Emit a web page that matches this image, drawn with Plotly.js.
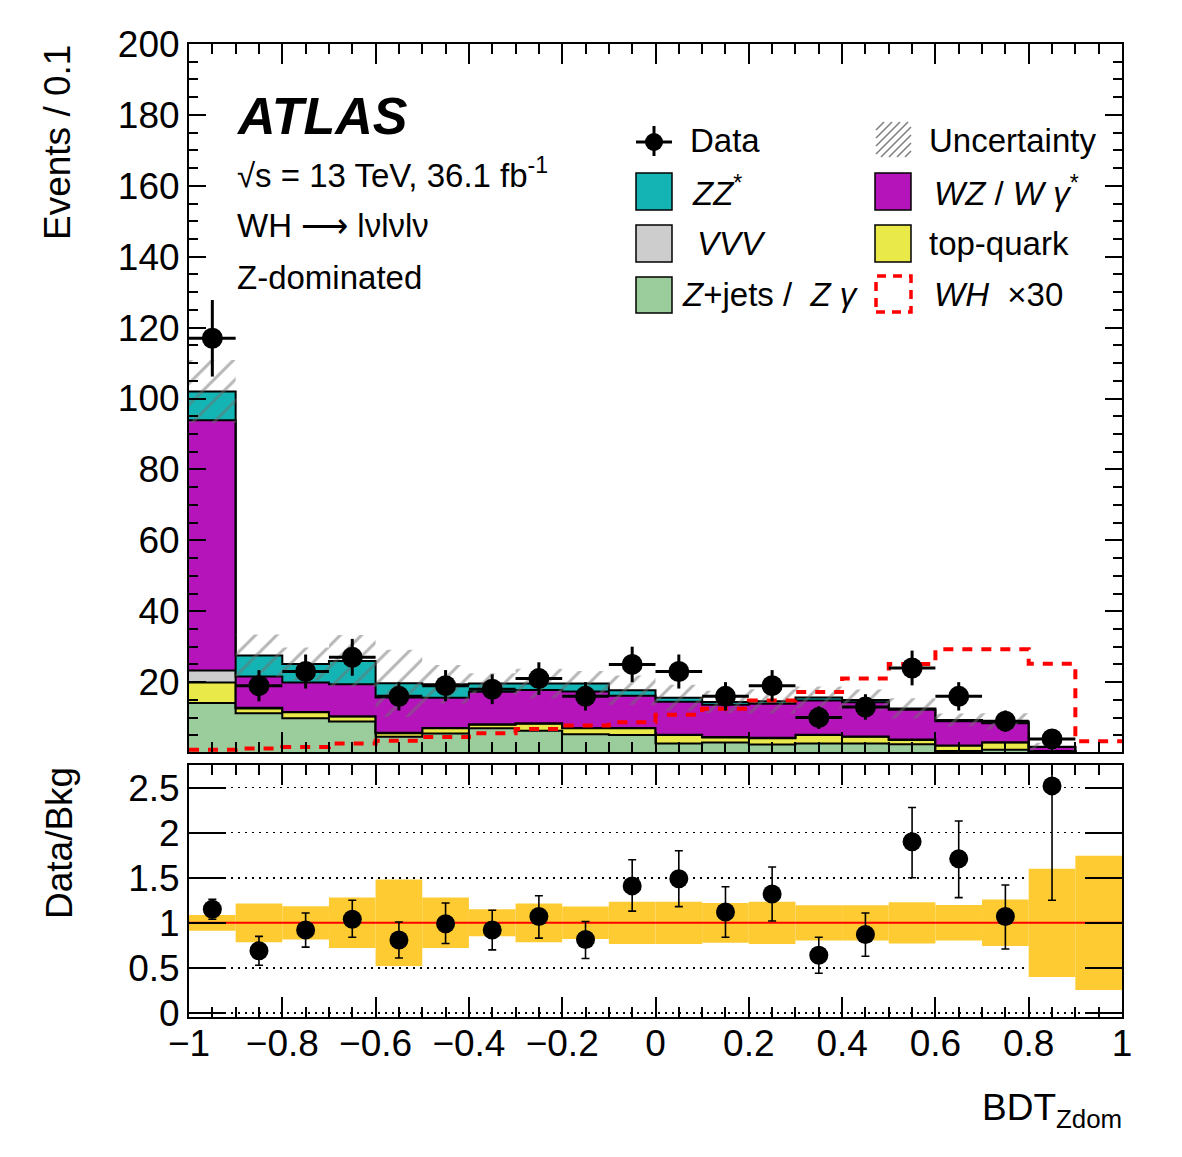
<!DOCTYPE html>
<html>
<head>
<meta charset="utf-8">
<script src="https://cdn.plot.ly/plotly-3.0.1.min.js"></script>
<style>
  html, body { margin: 0; padding: 0; background: #ffffff; }
  #chart { width: 1182px; height: 1157px; }
</style>
</head>
<body>
<div id="chart"></div>
<script>
// ---------------- data ----------------
const binEdges = [-1.0, -0.9, -0.8, -0.7, -0.6, -0.5, -0.4, -0.3, -0.2, -0.1, 0.0,
                  0.1, 0.2, 0.3, 0.4, 0.5, 0.6, 0.7, 0.8, 0.9, 1.0];

// background components per bin (events / 0.1)
const zjets = [14.1, 11.2, 9.8, 8.9, 4.6, 5.5, 7.0, 6.3, 5.3, 5.1, 2.7, 3.0, 2.4, 2.7, 2.7, 2.5, 0.6, 0.9, 0.2, 0];
const topq  = [5.8, 1.4, 1.7, 1.4, 1.0, 1.5, 1.0, 2.0, 1.7, 1.9, 2.4, 1.4, 1.8, 2.4, 1.9, 1.2, 1.5, 2.1, 0.4, 0];
const vvv   = [3.4, 0.2, 0.1, 0.1, 0.1, 0.1, 0.1, 0.1, 0.1, 0.1, 0.1, 0.1, 0.1, 0.1, 0.1, 0.1, 0.05, 0.05, 0.0, 0];
const wz    = [70.6, 8.8, 8.3, 9.0, 10.0, 8.5, 9.2, 9.4, 10.3, 9.1, 9.3, 9.1, 9.6, 9.6, 9.6, 8.4, 6.85, 5.35, 1.1, 0];
const zz    = [8.1, 5.9, 5.2, 6.6, 4.0, 3.8, 2.3, 1.8, 2.2, 1.5, 1.1, 0.8, 0.7, 0.9, 0.7, 0.4, 0.3, 0.5, 0.1, 0];

// signal WH x30
const whx30 = [0.9, 1.3, 1.7, 2.7, 3.5, 4.5, 5.6, 6.8, 7.75, 8.7, 10.8, 12.5, 14.8, 17.2, 21.0, 25.1, 29.3, 29.3, 25.2, 3.3];

// data
const dataCounts = [117, 19, 23, 27, 16, 19, 18, 21, 16, 25, 23, 16, 19, 10, 13, 24, 16, 9, 4, null];
const dataErr    = [10.8, 4.4, 4.8, 5.2, 4.0, 4.4, 4.2, 4.6, 4.0, 5.0, 4.8, 4.0, 4.4, 3.2, 3.6, 4.9, 4.0, 3.0, 2.0, null];

// ratio panel
const ratio       = [1.15, 0.69, 0.92, 1.04, 0.81, 0.99, 0.92, 1.07, 0.815, 1.41, 1.49, 1.12, 1.32, 0.64, 0.87, 1.90, 1.71, 1.07, 2.52, null];
const ratioErrUp  = [0.11, 0.16, 0.19, 0.21, 0.20, 0.23, 0.22, 0.23, 0.20, 0.29, 0.31, 0.28, 0.30, 0.20, 0.24, 0.38, 0.42, 0.35, 1.5, null];
const ratioErrDn  = [0.11, 0.16, 0.19, 0.20, 0.20, 0.22, 0.22, 0.24, 0.21, 0.28, 0.31, 0.28, 0.30, 0.20, 0.24, 0.40, 0.43, 0.36, 1.27, null];
const bkgRelUnc   = [0.087, 0.215, 0.185, 0.28, 0.48, 0.28, 0.15, 0.215, 0.18, 0.235, 0.235, 0.22, 0.235, 0.195, 0.195, 0.228, 0.197, 0.258, 0.60, 0.744];

const yTickVals = [0, 0.5, 1, 1.5, 2, 2.5];
const yTickText = ['0', '0.5', '1', '1.5', '2', '2.5'];

// ---------------- helpers ----------------
const nb = binEdges.length - 1;
const centers = [];
for (let i = 0; i < nb; i++) centers.push((binEdges[i] + binEdges[i + 1]) / 2);
const binW = binEdges[1] - binEdges[0];
const step = a => a.concat([a[a.length - 1]]);

const comps = [zjets, topq, vvv, wz, zz];
const compColors = ['#9bcc9b', '#e9e94a', '#cdcdcd', '#b414b9', '#14b4b4'];
const cum = [];
let run = new Array(nb).fill(0);
comps.forEach(c => { run = run.map((v, i) => v + c[i]); cum.push(run.slice()); });
const total = cum[cum.length - 1];
const uncLo = total.map((t, i) => t * (1 - bkgRelUnc[i]));
const uncHi = total.map((t, i) => t * (1 + bkgRelUnc[i]));

const FONT = 'Liberation Sans, Arial, Helvetica, sans-serif';

const traces = [];
cum.forEach((c, k) => {
  traces.push({
    type: 'scatter', mode: 'lines', x: binEdges, y: step(c),
    line: { shape: 'hv', color: '#000000', width: 2 },
    fill: k === 0 ? 'tozeroy' : 'tonexty', fillcolor: compColors[k],
    xaxis: 'x', yaxis: 'y', hoverinfo: 'skip'
  });
});
traces.push({
  type: 'scatter', mode: 'lines', x: binEdges, y: step(uncLo),
  line: { shape: 'hv', width: 0, color: 'rgba(0,0,0,0)' }, xaxis: 'x', yaxis: 'y', hoverinfo: 'skip'
});
traces.push({
  type: 'scatter', mode: 'lines', x: binEdges, y: step(uncHi),
  line: { shape: 'hv', width: 0, color: 'rgba(0,0,0,0)' },
  fill: 'tonexty', fillcolor: 'rgba(0,0,0,0)',
  fillpattern: { shape: '/', fgcolor: '#707070', bgcolor: 'rgba(0,0,0,0)', size: 15, solidity: 0.2, fillmode: 'overlay' },
  xaxis: 'x', yaxis: 'y', hoverinfo: 'skip'
});
traces.push({
  type: 'scatter', mode: 'lines', x: binEdges, y: step(whx30),
  line: { shape: 'hv', color: '#ff0000', width: 4, dash: '10px,9px' },
  xaxis: 'x', yaxis: 'y', hoverinfo: 'skip'
});
traces.push({
  type: 'scatter', mode: 'markers', x: centers, y: dataCounts,
  marker: { symbol: 'circle', size: 21, color: '#000000' },
  error_x: { type: 'constant', value: binW / 2, thickness: 3, width: 0, color: '#000000' },
  error_y: { type: 'data', array: dataErr, thickness: 3, width: 0, color: '#000000' },
  xaxis: 'x', yaxis: 'y', hoverinfo: 'skip'
});
// ratio panel
traces.push({
  type: 'bar', x: centers, y: bkgRelUnc.map(u => 2 * u), base: bkgRelUnc.map(u => 1 - u),
  width: binW, marker: { color: '#fecb32', line: { width: 0 } },
  xaxis: 'x2', yaxis: 'y2', hoverinfo: 'skip'
});
traces.push({
  type: 'scatter', mode: 'lines', x: [binEdges[0], binEdges[nb]], y: [1, 1],
  line: { color: '#ff0000', width: 2 }, xaxis: 'x2', yaxis: 'y2', hoverinfo: 'skip'
});
traces.push({
  type: 'scatter', mode: 'markers', x: centers, y: ratio,
  marker: { symbol: 'circle', size: 19, color: '#000000' },
  error_y: { type: 'data', array: ratioErrUp, arrayminus: ratioErrDn, symmetric: false, thickness: 1.6, width: 4, color: '#000000' },
  xaxis: 'x2', yaxis: 'y2', hoverinfo: 'skip'
});

// ---------------- layout ----------------
const L = 189, R = 1122, T = 44, B = 1017;
const px = x => (x - L) / (R - L);
const py = y => (B - y) / (B - T);

const ann = [];
function txt(x, y, text, size, opts) {
  ann.push(Object.assign({
    xref: 'paper', yref: 'paper', x: px(x), y: py(y), text: text, showarrow: false,
    xanchor: 'left', yanchor: 'middle', font: { family: FONT, size: size, color: '#000000' }
  }, opts || {}));
}
txt(234, 116, '<b><i>ATLAS</i></b>', 52);
txt(235, 173, '√s = 13 TeV, 36.1 fb<sup>-1</sup>', 33);
txt(235, 225, 'WH ⟶ lνlνlν', 33);
txt(235, 277, 'Z-dominated', 33);

txt(688, 140, 'Data', 33);
txt(690, 191, '<i>ZZ</i><sup>*</sup>', 33);
txt(695, 243, '<i>VVV</i>', 33);
txt(680, 294, '<i>Z</i>+jets /  <i>Z γ</i>', 33);
txt(927, 140, 'Uncertainty', 33);
txt(932, 191, '<i>WZ</i> / <i>W γ</i><sup>*</sup>', 33);
txt(927, 243, 'top-quark', 33);
txt(932, 294, '<i>WH</i>  ×30', 33);

txt(57, 143, 'Events / 0.1', 37, { xanchor: 'center', textangle: -90 });
txt(59, 843, 'Data/Bkg', 37, { xanchor: 'center', textangle: -90 });
txt(1124, 1110, 'BDT<sub>Zdom</sub>', 37, { xanchor: 'right' });

const shapes = [];
function rect(x0, y0, x1, y1, fill, line) {
  shapes.push({ type: 'rect', xref: 'paper', yref: 'paper', x0: px(x0), x1: px(x1), y0: py(y1), y1: py(y0),
    fillcolor: fill, line: line, layer: 'above' });
}
function seg(x0, y0, x1, y1, color, width) {
  shapes.push({ type: 'line', xref: 'paper', yref: 'paper', x0: px(x0), x1: px(x1), y0: py(y0), y1: py(y1),
    line: { color: color, width: width }, layer: 'above' });
}
// legend swatches
rect(636, 173, 672, 210, compColors[4], { color: '#000', width: 1.5 });
rect(636, 225, 672, 262, compColors[2], { color: '#000', width: 1.5 });
rect(636, 277, 672, 313, compColors[0], { color: '#000', width: 1.5 });
rect(875, 173, 911, 210, compColors[3], { color: '#000', width: 1.5 });
rect(875, 225, 911, 262, compColors[1], { color: '#000', width: 1.5 });
rect(876, 276, 911, 312, 'rgba(0,0,0,0)', { color: '#ff0000', width: 3.5, dash: '9px,7px' });
// data marker in legend
seg(636, 142, 672, 142, '#000', 3);
seg(654, 126, 654, 156, '#000', 3);
shapes.push({ type: 'circle', xref: 'paper', yref: 'paper', x0: px(645), x1: px(663), y0: py(151), y1: py(133),
  fillcolor: '#000', line: { color: '#000', width: 0 }, layer: 'above' });
// hatched uncertainty swatch
(function () {
  const x0 = 876, x1 = 911, yt = 122, yb = 157, w = x1 - x0, h = yb - yt;
  for (let c = -h; c < w; c += 8) {
    const tmin = Math.max(0, -c), tmax = Math.min(h, w - c);
    if (tmax > tmin) seg(x0 + c + tmin, yb - tmin, x0 + c + tmax, yb - tmax, '#808080', 1.6);
  }
})();

const axCommon = {
  showline: true, linecolor: '#000000', linewidth: 2, mirror: 'allticks',
  ticks: 'inside', tickcolor: '#000000', tickwidth: 2,
  zeroline: false, showgrid: false,
  tickfont: { family: FONT, size: 37, color: '#000000' }
};

const layout = {
  width: 1182, height: 1157,
  margin: { l: L, r: 1182 - R, t: T, b: 1157 - B, pad: 0 },
  paper_bgcolor: '#ffffff', plot_bgcolor: 'rgba(0,0,0,0)',
  showlegend: false, hovermode: false, barmode: 'overlay',
  font: { family: FONT, color: '#000000' },
  xaxis: Object.assign({}, axCommon, {
    domain: [0, 1], anchor: 'y', range: [-1, 1], tick0: -1, dtick: 0.2, ticklen: 20,
    showticklabels: false,
    minor: { ticks: 'inside', ticklen: 10, tickwidth: 2, tickcolor: '#000', tick0: -1, dtick: 0.05, showgrid: false }
  }),
  yaxis: Object.assign({}, axCommon, {
    domain: [(B - 752) / (B - T), 1], anchor: 'x', range: [0.3, 200], tick0: 0, dtick: 20, ticklen: 17,
    minor: { ticks: 'inside', ticklen: 9, tickwidth: 2, tickcolor: '#000', tick0: 0, dtick: 5, showgrid: false }
  }),
  xaxis2: Object.assign({}, axCommon, {
    domain: [0, 1], anchor: 'y2', range: [-1, 1], tick0: -1, dtick: 0.2, ticklen: 20,
    ticklabelstandoff: -7,
    minor: { ticks: 'inside', ticklen: 10, tickwidth: 2, tickcolor: '#000', tick0: -1, dtick: 0.05, showgrid: false }
  }),
  yaxis2: Object.assign({}, axCommon, {
    domain: [0, (B - 764.7) / (B - T)], anchor: 'x2', range: [-0.045, 2.755],
    tickmode: 'array', tickvals: yTickVals, ticktext: yTickText, ticklen: 37,
    showgrid: true, gridcolor: '#000000', gridwidth: 1.5, griddash: '2px,5px'
  }),
  annotations: ann,
  shapes: shapes
};

Plotly.newPlot('chart', traces, layout, { staticPlot: true, displayModeBar: false });
</script>
</body>
</html>
